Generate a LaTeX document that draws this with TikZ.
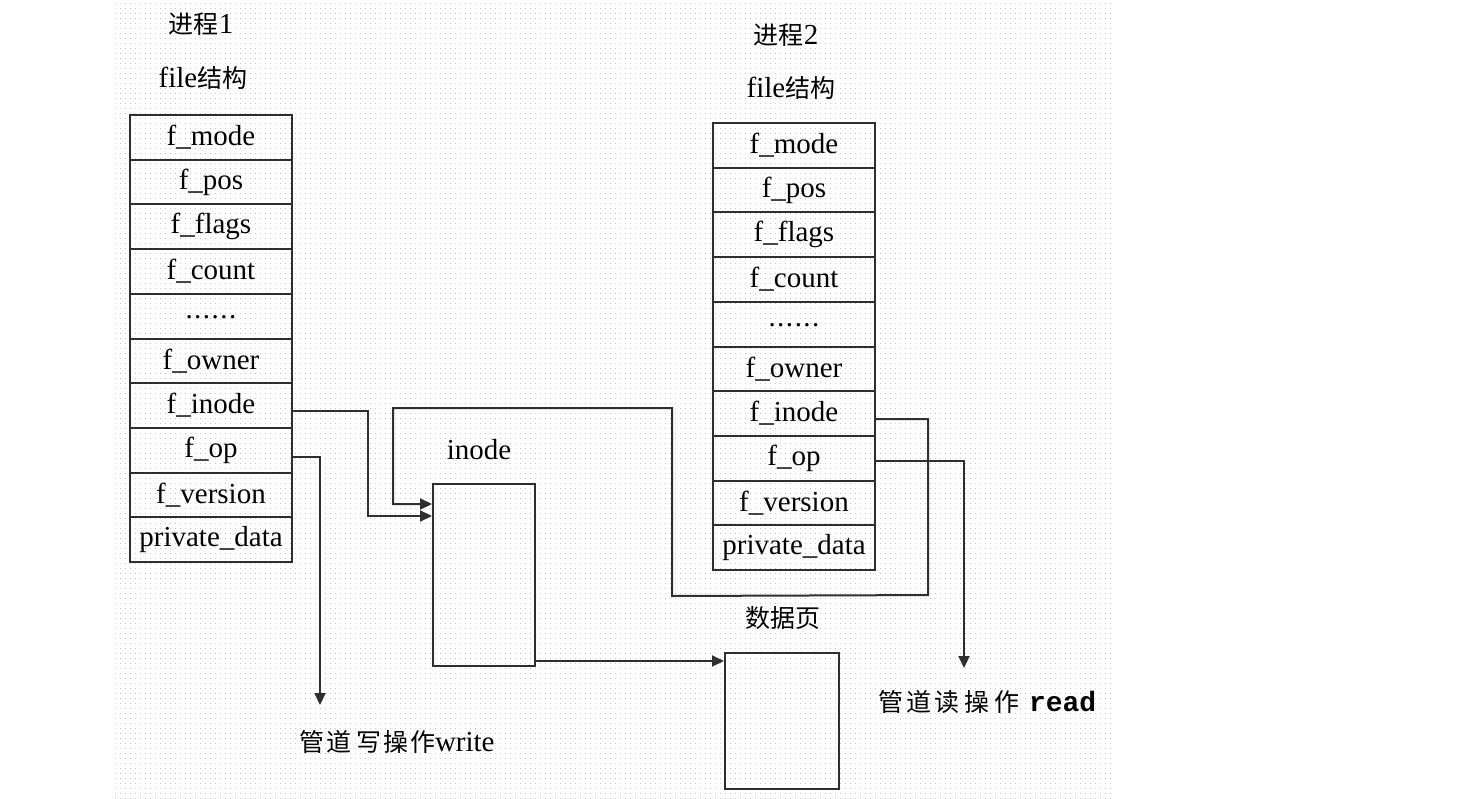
\documentclass[tikz,border=0pt]{standalone}
\usepackage{fontspec}
\setmainfont{Liberation Serif}
\newfontfamily\cjk{Noto Sans CJK SC}
\newfontfamily\monob{Liberation Mono}
\usetikzlibrary{arrows.meta,calc,patterns.meta}
\tikzdeclarepattern{name=bgdots, type=uncolored,
  bounding box={(0pt,0pt) and (5pt,5pt)}, tile size={(5pt,5pt)},
  code={\fill (0pt,0pt) rectangle (1pt,1pt);}}
\newcommand{\zh}[1]{{\cjk\fontsize{25}{28}\selectfont #1}}
\newcommand{\sixdots}{\raisebox{-5pt}{.\hspace{1.5pt}.\hspace{1.5pt}.\hspace{1.5pt}.\hspace{1.5pt}.\hspace{1.5pt}.}}
\begin{document}
\begin{tikzpicture}[x=1pt,y=-1pt,
  line width=2pt,
  cell/.style={draw=black!82, line width=2pt, minimum width=162pt, minimum height=44.7pt,
    inner sep=0pt, font=\fontsize{29}{30}\selectfont},
  box/.style={draw=black!82, line width=2pt, inner sep=0pt},
  lab/.style={inner sep=0pt, font=\fontsize{29}{30}\selectfont},
  arr/.style={draw=black!82, line width=2pt, -{Triangle[length=12pt,width=11pt]}}]
\useasboundingbox (0,0) rectangle (1461,798);
\fill[pattern=bgdots, pattern color=black!22] (112,0) rectangle (1112,798);
% titles
\node[lab] (t1) at (201,24) {\zh{进程}1};
\node[lab] (s1) at (203,78) {file\zh{结构}};
\node[lab] (t2) at (786,35) {\zh{进程}2};
\node[lab] (s2) at (791,88) {file\zh{结构}};
% tables
\foreach \t [count=\i] in {f\_mode,f\_pos,f\_flags,f\_count,\sixdots,f\_owner,f\_inode,f\_op,f\_version,private\_data}{
  \node[cell] (L\i) at (211,{92.65+44.7*\i}) {\t};
  \node[cell] (R\i) at (794,{100.65+44.7*\i}) {\t};
}
% inode
\node[lab] (il) at (479,450) {inode};
\node[box, minimum width=102pt, minimum height=182pt] (inode) at (484,575) {};
% data page
\node[lab] (dl) at (783,618) {\zh{数据页}};
\node[box, minimum width=114pt, minimum height=136pt] (data) at (782,721) {};
% bottom labels
\coordinate (wend) at (320,705);
\coordinate (rend) at (964,668);
\node[lab, anchor=west] (wl) at (298,742) {\zh{管\hspace{2pt}道\hspace{5pt}写\hspace{2pt}操\hspace{2pt}作}write};
\node[lab, anchor=west] (rl) at (877,702) {\zh{管\hspace{3pt}道\hspace{3pt}读\hspace{5pt}操\hspace{5pt}作}\hspace{10pt}{\monob\bfseries\fontsize{28}{30}\selectfont read}};
% connectors
\draw[arr] ([yshift=-5.5pt]L7.east) -- ++(75,0) |- ($(inode.north west)+(0,33)$);
\draw[arr] ([yshift=-5.5pt]R7.east) -- ++(52,0) -- ++(0,176) -- (672,596) -- (672,408) -- (393,408) |- ($(inode.north west)+(0,21)$);
\draw[arr] ([yshift=-6.5pt]L8.east) -| (wend);
\draw[arr] ([yshift=-3pt]R8.east) -| (rend);
\draw[arr] ([yshift=6pt]inode.south east) -- ([yshift=6pt]inode.south east -| data.west);
\end{tikzpicture}
\end{document}
